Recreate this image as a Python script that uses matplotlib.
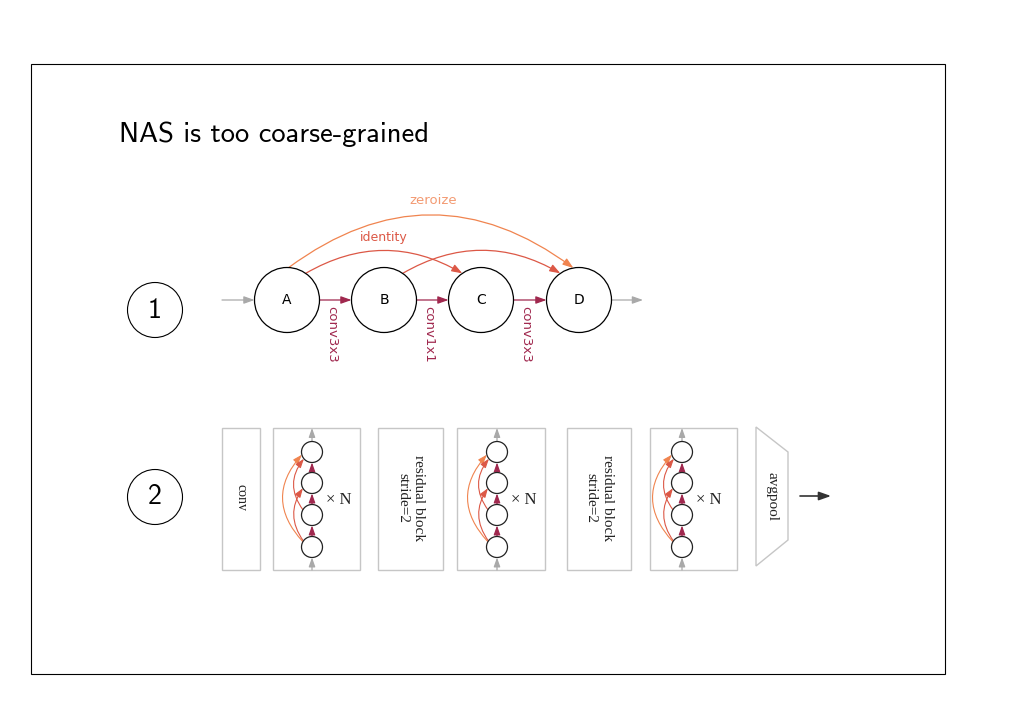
import numpy as np
import matplotlib.pyplot as plt
from matplotlib.patches import Circle, Rectangle, Polygon, FancyArrowPatch

# content
title = "NAS is too coarse-grained"
step_labels = ["1", "2"]
nodes = ["A", "B", "C", "D"]
chain_ops = ["conv3x3", "conv1x1", "conv3x3"]
skip_edges = [("A", "C", "identity"), ("B", "D", "identity"), ("A", "D", "zeroize")]
stages = ["conv", "cell", "residual block\nstride=2", "cell",
          "residual block\nstride=2", "cell", "avgpool"]
repeat_label = "\u00d7 N"

# colours
MAROON = "#a0284e"
RED = "#dc5846"
ORANGE = "#f0844f"
ORANGE_TXT = "#f39a72"
GRAY = "#a9a9a9"
EDGE = "#c6c6c6"

SERIF = ["Liberation Serif", "DejaVu Serif"]
SANS = ["DejaVu Sans"]
TITLE_FONT = ["cmss10", "DejaVu Sans"]


def arrow(ax, p0, p1, color, rad=0.0, lw=0.9, scale=7):
    a = FancyArrowPatch(p0, p1, arrowstyle="-|>,head_length=0.9,head_width=0.32",
                        connectionstyle=f"arc3,rad={rad}", mutation_scale=scale,
                        color=color, lw=lw, shrinkA=0, shrinkB=0)
    ax.add_patch(a)


def on_circle(c, r, deg):
    t = np.radians(deg)
    return (c[0] + r * np.cos(t), c[1] - r * np.sin(t))


def draw_graph(ax):
    y = 300
    r = 32.5
    xs = dict(zip(nodes, [287, 384, 481, 579]))
    for n in nodes:
        ax.add_patch(Circle((xs[n], y), r, fc="white", ec="black", lw=0.9, zorder=3))
        ax.text(xs[n], y, n, ha="center", va="center", fontsize=10, family=SANS, zorder=4)

    arrow(ax, (222, y), (xs["A"] - r, y), GRAY)
    arrow(ax, (xs["D"] + r, y), (643, y), GRAY)

    for i, op in enumerate(chain_ops):
        x0 = xs[nodes[i]] + r
        x1 = xs[nodes[i + 1]] - r
        arrow(ax, (x0, y), (x1, y), MAROON)
        ax.text((x0 + x1) / 2 - 4, y + 6, op, rotation=-90, ha="center", va="top",
                fontsize=9.5, color=MAROON, family=SANS)

    for src, dst, op in skip_edges:
        if op == "zeroize":
            p0 = on_circle((xs[src], y), r, 87)
            p1 = on_circle((xs[dst], y), r, 100)
            arrow(ax, p0, p1, ORANGE, rad=-0.37)
        else:
            p0 = on_circle((xs[src], y), r, 55)
            p1 = on_circle((xs[dst], y), r, 125)
            arrow(ax, p0, p1, RED, rad=-0.29)

    ax.text(384, 237, "identity", ha="center", va="center", fontsize=9,
            color=RED, family=SANS)
    ax.text(433, 200, "zeroize", ha="center", va="center", fontsize=9.5,
            color=ORANGE_TXT, family=SANS)


def draw_cell(ax, cx):
    ys = [452, 483, 515, 547]
    r = 10.5
    for cy in ys:
        ax.add_patch(Circle((cx, cy), r, fc="white", ec="#222222", lw=0.9, zorder=3))
    for i in range(3):
        arrow(ax, (cx, ys[i + 1] - r), (cx, ys[i] + r), MAROON, scale=6)
    arrow(ax, (cx, ys[0] - r), (cx, 428), GRAY, scale=6)
    arrow(ax, (cx, 570), (cx, ys[3] + r), GRAY, scale=6)

    # skip connections: bottom->top, bottom->2nd, 3rd->top
    arrow(ax, on_circle((cx, ys[3]), r, 150), on_circle((cx, ys[0]), r, 195),
          ORANGE, rad=-0.45, lw=0.8, scale=6)
    arrow(ax, on_circle((cx, ys[3]), r, 145), on_circle((cx, ys[1]), r, 210),
          RED, rad=-0.35, lw=0.8, scale=6)
    arrow(ax, on_circle((cx, ys[2]), r, 150), on_circle((cx, ys[0]), r, 220),
          RED, rad=-0.38, lw=0.8, scale=6)

    ax.text(cx + 14, 500, repeat_label, ha="left", va="center", fontsize=12,
            family=SERIF, color="#222222")


def draw_network(ax):
    boxes = [(222, 260), (273, 360), (378, 443), (457, 545), (567, 631), (650, 737)]
    cell_x = [312, 497, 682]
    top, bot = 428, 570
    k = 0
    for (x0, x1), name in zip(boxes, stages):
        ax.add_patch(Rectangle((x0, top), x1 - x0, bot - top, fc="white", ec=EDGE, lw=1))
        if name == "cell":
            draw_cell(ax, cell_x[k])
            k += 1
        else:
            size = 10 if name == "conv" else 11
            ax.text((x0 + x1) / 2, 498, name, rotation=-90, ha="center", va="center",
                    fontsize=size, family=SERIF, linespacing=1.3, color="#222222")

    ax.add_patch(Polygon([(756, 427), (788, 452), (788, 540), (756, 566)],
                         closed=True, fc="white", ec=EDGE, lw=1))
    ax.text(772, 497, stages[-1], rotation=-90, ha="center", va="center",
            fontsize=11, family=SERIF, color="#222222")
    arrow(ax, (800, 496), (831, 496), "#333333", lw=1.2, scale=8)


fig = plt.figure(figsize=(10.24, 7.05), dpi=100)
ax = fig.add_axes([0, 0, 1, 1])
ax.set_xlim(0, 1024)
ax.set_ylim(705, 0)
ax.axis("off")

ax.add_patch(Rectangle((31, 64), 914, 610, fc="none", ec="black", lw=0.8))
ax.text(119, 134, title, ha="left", va="center", fontsize=20.5, family=TITLE_FONT)

for (cy, lab) in zip([310, 497], step_labels):
    ax.add_patch(Circle((155, cy), 27.5, fc="white", ec="black", lw=0.8))
    ax.text(155, cy, lab, ha="center", va="center", fontsize=20, family=TITLE_FONT)

draw_graph(ax)
draw_network(ax)

fig.savefig("out.png", dpi=100)
